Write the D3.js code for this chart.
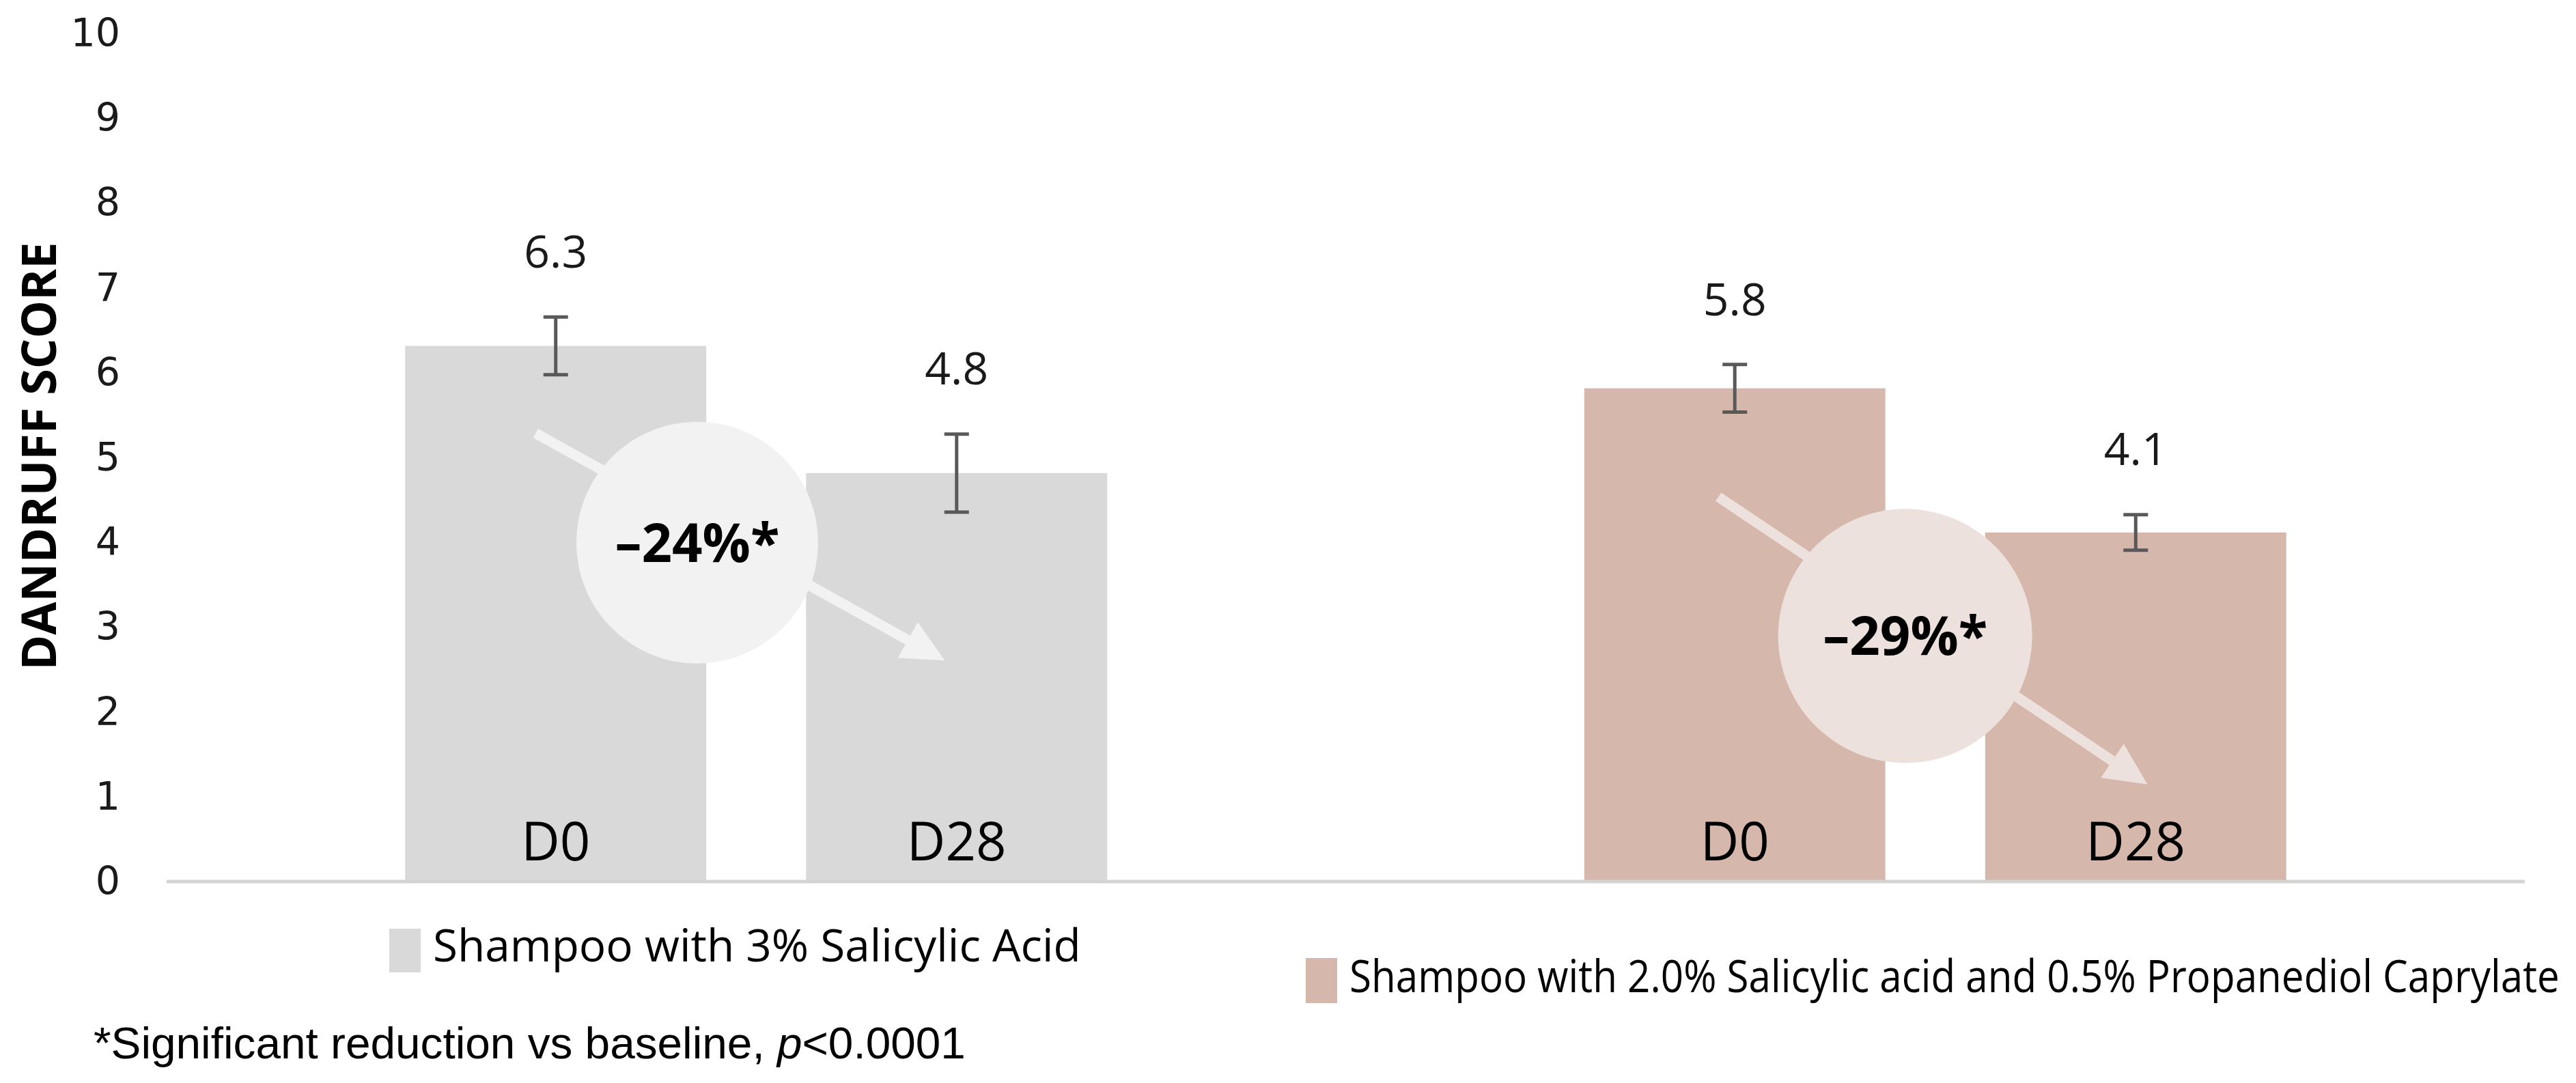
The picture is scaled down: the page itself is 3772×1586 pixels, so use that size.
<!DOCTYPE html>
<html>
<head>
<meta charset="utf-8">
<script src="https://cdn.jsdelivr.net/npm/d3@7"></script>
<style>
  html, body { margin: 0; padding: 0; background: #ffffff; }
  svg { display: block; }
</style>
</head>
<body>
<svg id="chart" width="3772" height="1586"></svg>
<script>
// ---------------- DATA ----------------
const groups = ["Shampoo with 3% Salicylic Acid",
                "Shampoo with 2.0% Salicylic acid and 0.5% Propanediol Caprylate"];
const timepoints = ["D0", "D28"];
const scoresSalicylic = [6.3, 4.8];
const scoresCaprylate = [5.8, 4.1];
const errorSalicylic = [0.34, 0.46];
const errorCaprylate = [0.28, 0.21];
const reductionLabels = ["\u201324%*", "\u201329%*"];
const yTickValues = [0, 1, 2, 3, 4, 5, 6, 7, 8, 9, 10];
const yAxisTitle = "DANDRUFF SCORE";
const footnoteText = "*Significant reduction vs baseline, ";
const footnoteP = "p";
const footnoteTail = "<0.0001";

// ---------------- LAYOUT / STYLE ----------------
const W = 3772, H = 1586;
const plotLeft = 244, plotRight = 3697, plotTop = 47, plotBottom = 1289;
const barColors = ["#d9d9d9", "#d5b7ab"];
const badgeColors = ["#f2f2f2", "#ede1dd"];
const errColor = "#595959";

// annotation layout: x as fraction of group band, y in data units
const annotationLayout = [
  { start: [0.313, 5.27], end: [0.660, 2.59], center: [0.450, 3.98], r: 177 },
  { start: [0.316, 4.52], end: [0.680, 1.13], center: [0.4745, 2.88], r: 186 }
];

const series = [scoresSalicylic, scoresCaprylate];
const errors = [errorSalicylic, errorCaprylate];

const svg = d3.select("#chart");
svg.append("rect").attr("width", W).attr("height", H).attr("fill", "#ffffff");

// horizontally squeeze a text element (anchored at its start x) to a target width
function fitWidth(sel, x, yy, target) {
  const w = sel.node().getComputedTextLength();
  const k = target / w;
  sel.attr("x", 0).attr("y", 0)
     .attr("transform", `translate(${x},${yy}) scale(${k},1)`);
}

const y = d3.scaleLinear().domain([0, 10]).range([plotBottom, plotTop]);
const x0 = d3.scaleBand().domain(groups).range([plotLeft, plotRight]).paddingInner(0).paddingOuter(0);
const x1 = d3.scaleBand().domain(timepoints).range([0, x0.bandwidth()])
  .paddingInner(0.249).paddingOuter(0.595);

// ---- Y axis (no line, no ticks) ----
const yAxis = d3.axisLeft(y).tickValues(yTickValues).tickSize(0).tickPadding(0).tickFormat(d3.format("d"));
const yAxisG = svg.append("g").attr("transform", `translate(176,0)`).call(yAxis);
yAxisG.select(".domain").remove();
yAxisG.selectAll("text")
  .attr("font-family", "'DejaVu Sans', Verdana, sans-serif")
  .attr("font-size", 57)
  .attr("fill", "#1a1a1a")
  .attr("dy", "0.36em");

// y axis title (rotated, squeezed to reference length)
const yt = svg.append("text")
  .attr("text-anchor", "middle")
  .attr("font-family", "'Open Sans', 'Noto Sans', sans-serif")
  .attr("font-weight", 700)
  .attr("font-size", 70)
  .attr("fill", "#000")
  .text(yAxisTitle);
{
  const w = yt.node().getComputedTextLength();
  yt.attr("transform", `translate(82,668) rotate(-90) scale(${627 / w},1)`);
}

// ---- Bars ----
const rows = [];
groups.forEach((g, gi) => timepoints.forEach((t, ti) => rows.push({
  group: g, gi, time: t, value: series[gi][ti], err: errors[gi][ti]
})));

const gBars = svg.append("g");
gBars.selectAll("rect.bar").data(rows).join("rect")
  .attr("class", "bar")
  .attr("x", d => x0(d.group) + x1(d.time))
  .attr("width", x1.bandwidth())
  .attr("y", d => y(d.value))
  .attr("height", d => y(0) - y(d.value))
  .attr("fill", d => barColors[d.gi]);

// x axis baseline
svg.append("line")
  .attr("x1", plotLeft).attr("x2", plotRight)
  .attr("y1", y(0) + 2).attr("y2", y(0) + 2)
  .attr("stroke", "#d3d3d3").attr("stroke-width", 5);

// ---- Arrows + badges ----
annotationLayout.forEach((a, gi) => {
  const g = groups[gi];
  const px = f => x0(g) + f * x0.bandwidth();
  const sx = px(a.start[0]), sy = y(a.start[1]);
  const ex = px(a.end[0]), ey = y(a.end[1]);
  const ang = Math.atan2(ey - sy, ex - sx);
  const headLen = 62, headHalf = 30;
  const bx = ex - headLen * Math.cos(ang), by = ey - headLen * Math.sin(ang);
  svg.append("line")
    .attr("x1", sx).attr("y1", sy).attr("x2", bx).attr("y2", by)
    .attr("stroke", badgeColors[gi]).attr("stroke-width", 15);
  const nx = -Math.sin(ang), ny = Math.cos(ang);
  svg.append("path")
    .attr("d", `M${ex},${ey} L${bx + nx * headHalf},${by + ny * headHalf} L${bx - nx * headHalf},${by - ny * headHalf} Z`)
    .attr("fill", badgeColors[gi]);
  const cx = px(a.center[0]), cy = y(a.center[1]);
  svg.append("circle").attr("cx", cx).attr("cy", cy).attr("r", a.r).attr("fill", badgeColors[gi]);
  svg.append("text")
    .attr("x", cx).attr("y", cy).attr("dy", "0.36em")
    .attr("text-anchor", "middle")
    .attr("font-family", "'Open Sans', 'Noto Sans', sans-serif")
    .attr("font-weight", 700)
    .attr("font-size", 78)
    .attr("fill", "#000")
    .text(reductionLabels[gi]);
});

// ---- Error bars ----
const capHalf = 18;
const gErr = svg.append("g").attr("stroke", errColor).attr("stroke-width", 5);
rows.forEach(d => {
  const cx = x0(d.group) + x1(d.time) + x1.bandwidth() / 2;
  const top = y(d.value + d.err), bot = y(d.value - d.err);
  gErr.append("line").attr("x1", cx).attr("x2", cx).attr("y1", top).attr("y2", bot);
  gErr.append("line").attr("x1", cx - capHalf).attr("x2", cx + capHalf).attr("y1", top).attr("y2", top);
  gErr.append("line").attr("x1", cx - capHalf).attr("x2", cx + capHalf).attr("y1", bot).attr("y2", bot);
});

// ---- Value labels ----
svg.append("g").selectAll("text").data(rows).join("text")
  .attr("x", d => x0(d.group) + x1(d.time) + x1.bandwidth() / 2)
  .attr("y", d => y(d.value + d.err) - 96)
  .attr("dy", "0.36em")
  .attr("text-anchor", "middle")
  .attr("font-family", "'Open Sans', 'Noto Sans', sans-serif")
  .attr("font-size", 66)
  .attr("fill", "#1a1a1a")
  .text(d => d3.format(".1f")(d.value));

// ---- Timepoint labels inside bars ----
svg.append("g").selectAll("text").data(rows).join("text")
  .attr("x", d => x0(d.group) + x1(d.time) + x1.bandwidth() / 2)
  .attr("y", y(0) - 29)
  .attr("text-anchor", "middle")
  .attr("font-family", "'Open Sans', 'Noto Sans', sans-serif")
  .attr("font-size", 78)
  .attr("fill", "#000")
  .text(d => d.time);

// ---- Legend ----
const legendItems = [
  { x: 570, y: 1360, sw: 46, sh: 64, tx: 634, ty: 1408, len: 949 },
  { x: 1912, y: 1403, sw: 46, sh: 66, tx: 1976, ty: 1453, len: 1772 }
];
groups.forEach((g, gi) => {
  const L = legendItems[gi];
  svg.append("rect").attr("x", L.x).attr("y", L.y).attr("width", L.sw).attr("height", L.sh)
    .attr("fill", barColors[gi]);
  const t = svg.append("text")
    .attr("font-family", "'Open Sans', 'Noto Sans', sans-serif")
    .attr("font-size", 66)
    .attr("fill", "#000")
    .text(g);
  fitWidth(t, L.tx, L.ty, L.len);
});

// ---- Footnote ----
const fn = svg.append("text")
  .attr("font-family", "'Liberation Sans', Arial, sans-serif")
  .attr("font-size", 64)
  .attr("fill", "#000");
fn.append("tspan").text(footnoteText);
fn.append("tspan").attr("font-style", "italic").text(footnoteP);
fn.append("tspan").text(footnoteTail);
fitWidth(fn, 137, 1550, 1277);
</script>
</body>
</html>
